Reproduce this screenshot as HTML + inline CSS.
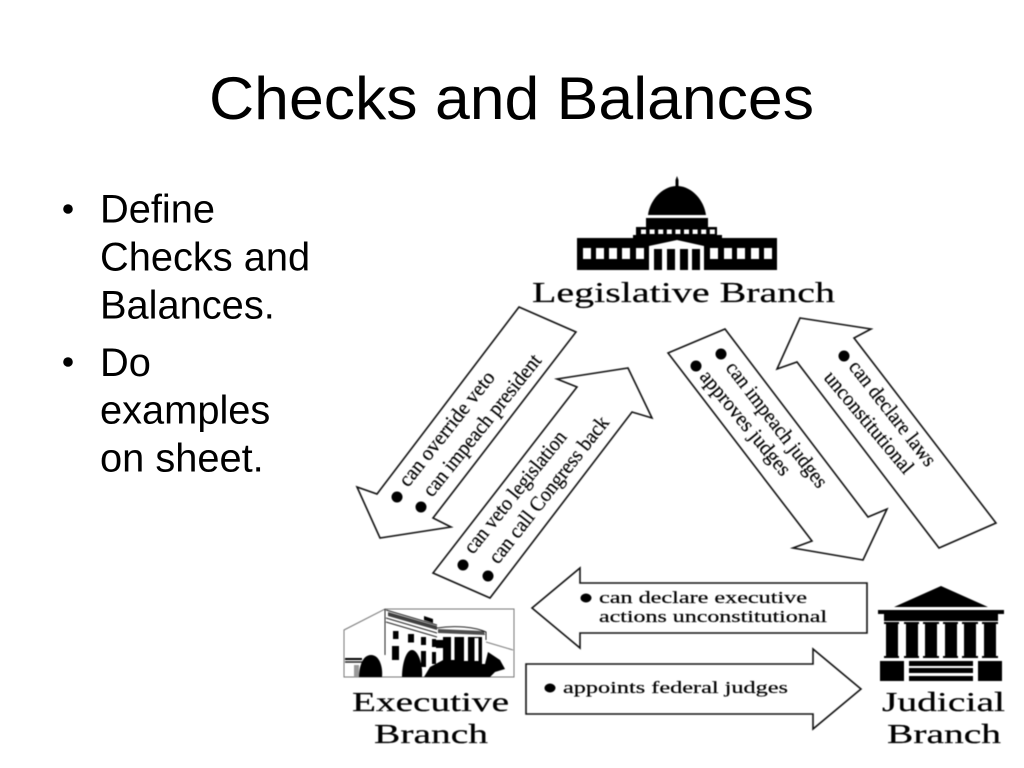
<!DOCTYPE html>
<html><head><meta charset="utf-8"><style>
html,body{margin:0;padding:0;background:#fff;width:1024px;height:768px;overflow:hidden}
svg{position:absolute;left:0;top:0}
.s{font-family:"Liberation Sans",sans-serif;fill:#000}
.d{font-family:"Liberation Serif",serif;fill:#000;stroke:#000;stroke-width:.2}
#g{filter:blur(.45px)}
#t{filter:blur(.25px)}
.a{fill:#fff;stroke:#111;stroke-width:1.6;stroke-linejoin:miter}
</style></head><body>
<svg width="1024" height="768" viewBox="0 0 1024 768" xmlns="http://www.w3.org/2000/svg">
<g id="t">
<text class="s" x="209" y="119" font-size="60" textLength="605" lengthAdjust="spacingAndGlyphs">Checks and Balances</text>
<g class="s" font-size="39.800">
<circle cx="68" cy="209" r="4.800"/><circle cx="68" cy="362" r="4.800"/>
<text x="100" y="222.500">Define</text>
<text x="100" y="270.500">Checks and</text>
<text x="100" y="318.500">Balances.</text>
<text x="100" y="376">Do</text>
<text x="100" y="423.500">examples</text>
<text x="100" y="471.500">on sheet.</text>
</g>
</g>
<g id="g">
<!-- Arrows -->
<polygon class="a" points="519,307 576,332 433,518 451,527 380,538 357,487 377,494"/>
<polygon class="a" points="557,379 628,368 652,418 632,412 490,598 433,573 577,387"/>
<polygon class="a" points="668,353 725,329 868,517 887,509 863,560 793,548 812,541"/>
<polygon class="a" points="800,318 871,329 854,338 996,523 939,548 797,362 777,369"/>
<polygon class="a" points="532,608 580,568 580,583 867,583 867,633 580,633 580,648"/>
<polygon class="a" points="526,664 813,664 813,649 861,689 813,729 813,714 526,714"/>
<!-- Bullets -->
<g fill="#000">
<circle cx="397" cy="497" r="5.500"/><circle cx="421" cy="507" r="5.500"/>
<circle cx="463" cy="565" r="5.500"/><circle cx="488" cy="576" r="5.500"/>
<circle cx="721" cy="354" r="5.500"/><circle cx="696" cy="366" r="5.500"/>
<circle cx="844" cy="356" r="5.500"/>
<ellipse cx="586" cy="598" rx="5.500" ry="4.500"/><ellipse cx="550" cy="688" rx="5.500" ry="4.500"/>
</g>
<!-- Arrow labels -->
<g class="d" font-size="21">
<text transform="translate(408,488) rotate(-51.5)" textLength="141" lengthAdjust="spacingAndGlyphs">can override veto</text>
<text transform="translate(432,498) rotate(-51.2)" textLength="176" lengthAdjust="spacingAndGlyphs">can impeach president</text>
<text transform="translate(473,555) rotate(-51.2)" textLength="151" lengthAdjust="spacingAndGlyphs">can veto legislation</text>
<text transform="translate(498,565) rotate(-51.8)" textLength="181" lengthAdjust="spacingAndGlyphs">can call Congress back</text>
<text transform="translate(725,368) rotate(52.5)" textLength="153" lengthAdjust="spacingAndGlyphs">can impeach judges</text>
<text transform="translate(699,377) rotate(50.4)" textLength="130" lengthAdjust="spacingAndGlyphs">approves judges</text>
<text transform="translate(848,367) rotate(52)" textLength="128" lengthAdjust="spacingAndGlyphs">can declare laws</text>
<text transform="translate(823,378) rotate(50)" textLength="127" lengthAdjust="spacingAndGlyphs">unconstitutional</text>
</g>
<g class="d" font-size="17">
<text x="599" y="603" textLength="208" lengthAdjust="spacingAndGlyphs">can declare executive</text>
<text x="599" y="622" textLength="228" lengthAdjust="spacingAndGlyphs">actions unconstitutional</text>
<text x="563" y="693" textLength="225" lengthAdjust="spacingAndGlyphs">appoints federal judges</text>
</g>
<!-- Capitol -->
<g fill="#000">
<path d="M648,215 C650,200 662,187 675.500,186 L675.500,180 L677,176 L678.500,180 L678.500,186 C692,187 704,200 706,215 Z"/>
<rect x="646" y="218" width="62" height="10"/>
<rect x="636" y="227" width="81" height="9"/>
<rect x="633" y="235" width="89" height="4"/>
<rect x="577" y="238" width="200" height="32"/>
</g>
<g fill="#fff">
<rect x="641" y="229.500" width="5" height="4.500"/><rect x="649.600" y="229.500" width="5" height="4.500"/><rect x="658.200" y="229.500" width="5" height="4.500"/><rect x="666.800" y="229.500" width="5" height="4.500"/><rect x="675.400" y="229.500" width="5" height="4.500"/><rect x="684" y="229.500" width="5" height="4.500"/><rect x="692.600" y="229.500" width="5" height="4.500"/><rect x="701.200" y="229.500" width="5" height="4.500"/><rect x="709.800" y="229.500" width="5" height="4.500"/>
<rect x="583" y="248" width="8" height="11"/><rect x="596" y="248" width="8" height="11"/><rect x="609" y="248" width="8" height="11"/><rect x="622" y="248" width="8" height="11"/><rect x="636" y="248" width="8" height="11"/>
<rect x="710" y="248" width="8" height="11"/><rect x="724" y="248" width="8" height="11"/><rect x="737" y="248" width="8" height="11"/><rect x="751" y="248" width="8" height="11"/><rect x="764" y="248" width="8" height="11"/>
<polygon points="649,246 677,240 704,246 704,270 649,270"/>
</g>
<g fill="#000">
<rect x="654" y="249" width="8" height="21"/><rect x="667" y="249" width="8" height="21"/><rect x="680" y="249" width="8" height="21"/><rect x="692" y="249" width="8" height="21"/>
</g>
<text class="d" x="532" y="302" font-size="28" textLength="303" lengthAdjust="spacingAndGlyphs">Legislative Branch</text>
<!-- White House -->
<polygon points="344,630 385,609 514,609 514,677 344,677" fill="#fff" stroke="#777" stroke-width="1"/>
<g fill="none" stroke="#222" stroke-width="1">
<path d="M385,609 V655"/>
<path d="M386,610 L437,625 M386,618 L437,633 M386,622 L437,637"/>
<path d="M437,628 C455,625 475,627 486,632 L486,640"/>
<path d="M486,642 L513,650" stroke="#777"/>
<path d="M345,662 H362" stroke-width="1.500"/>
</g>
<g fill="#000">
<polygon points="388,612 437,626 437,630 388,616" opacity=".75"/>
<polygon points="438,629 484,631 485,635 438,633" opacity=".7"/>
<rect x="345" y="658" width="17" height="2"/>
<rect x="354" y="665" width="5" height="12" fill="#999"/>
<rect x="393" y="631" width="5.500" height="8"/><rect x="408" y="634" width="6" height="8.500"/><rect x="421" y="637" width="5" height="8"/><rect x="432" y="639" width="4" height="8"/>
<rect x="392" y="646" width="7" height="14"/><rect x="421" y="651" width="5" height="16"/><rect x="432" y="652" width="4" height="12"/>
<polygon points="424,616 433,619 433,623 424,620"/>
<rect x="443" y="637" width="39" height="28"/>
<rect x="436" y="640" width="7" height="8"/>
<path d="M359,677 C359,668 362,655 371,655 C380,655 383,668 382,677 Z"/>
<path d="M402,677 C402,664 406,650 412,650 C418,650 423,664 422,677 Z"/>
<path d="M424,677 L430,667 L445,659 L470,664 L485,664 L488,652 L500,660 L505,669 L495,672 L490,677 Z"/>
</g>
<g fill="#fff">
<rect x="451" y="637" width="3.500" height="23"/><rect x="464" y="637" width="4" height="24"/><rect x="474.500" y="638" width="4" height="23"/>
</g>
<text class="d" x="352" y="711" font-size="27" textLength="157" lengthAdjust="spacingAndGlyphs">Executive</text>
<text class="d" x="374" y="743" font-size="27" textLength="114" lengthAdjust="spacingAndGlyphs">Branch</text>
<!-- Court -->
<g fill="#000">
<polygon points="894,607 941,586 988,607"/>
<rect x="878" y="610" width="126" height="4"/>
<rect x="884" y="614" width="114" height="7"/>
<rect x="884" y="622" width="15" height="2"/><rect x="904" y="622" width="15" height="2"/><rect x="923" y="622" width="16" height="2"/><rect x="943" y="622" width="15" height="2"/><rect x="962" y="622" width="16" height="2"/><rect x="982" y="622" width="16" height="2"/>
<rect x="886" y="623" width="12" height="34"/><rect x="906" y="623" width="12" height="34"/><rect x="925" y="623" width="12" height="34"/><rect x="945" y="623" width="12" height="34"/><rect x="964" y="623" width="12" height="34"/><rect x="984" y="623" width="12" height="34"/>
<rect x="884" y="656" width="15" height="2"/><rect x="904" y="656" width="15" height="2"/><rect x="923" y="656" width="16" height="2"/><rect x="943" y="656" width="15" height="2"/><rect x="962" y="656" width="16" height="2"/><rect x="982" y="656" width="16" height="2"/>
<rect x="880" y="661" width="24" height="20"/><rect x="978" y="661" width="24" height="20"/>
<rect x="909" y="661" width="64" height="5"/><rect x="909" y="668" width="64" height="5"/><rect x="909" y="676" width="64" height="5"/>
</g>
<text class="d" x="882" y="711" font-size="27" textLength="123" lengthAdjust="spacingAndGlyphs">Judicial</text>
<text class="d" x="887" y="743" font-size="27" textLength="114" lengthAdjust="spacingAndGlyphs">Branch</text>
</g>
</svg>
</body></html>
